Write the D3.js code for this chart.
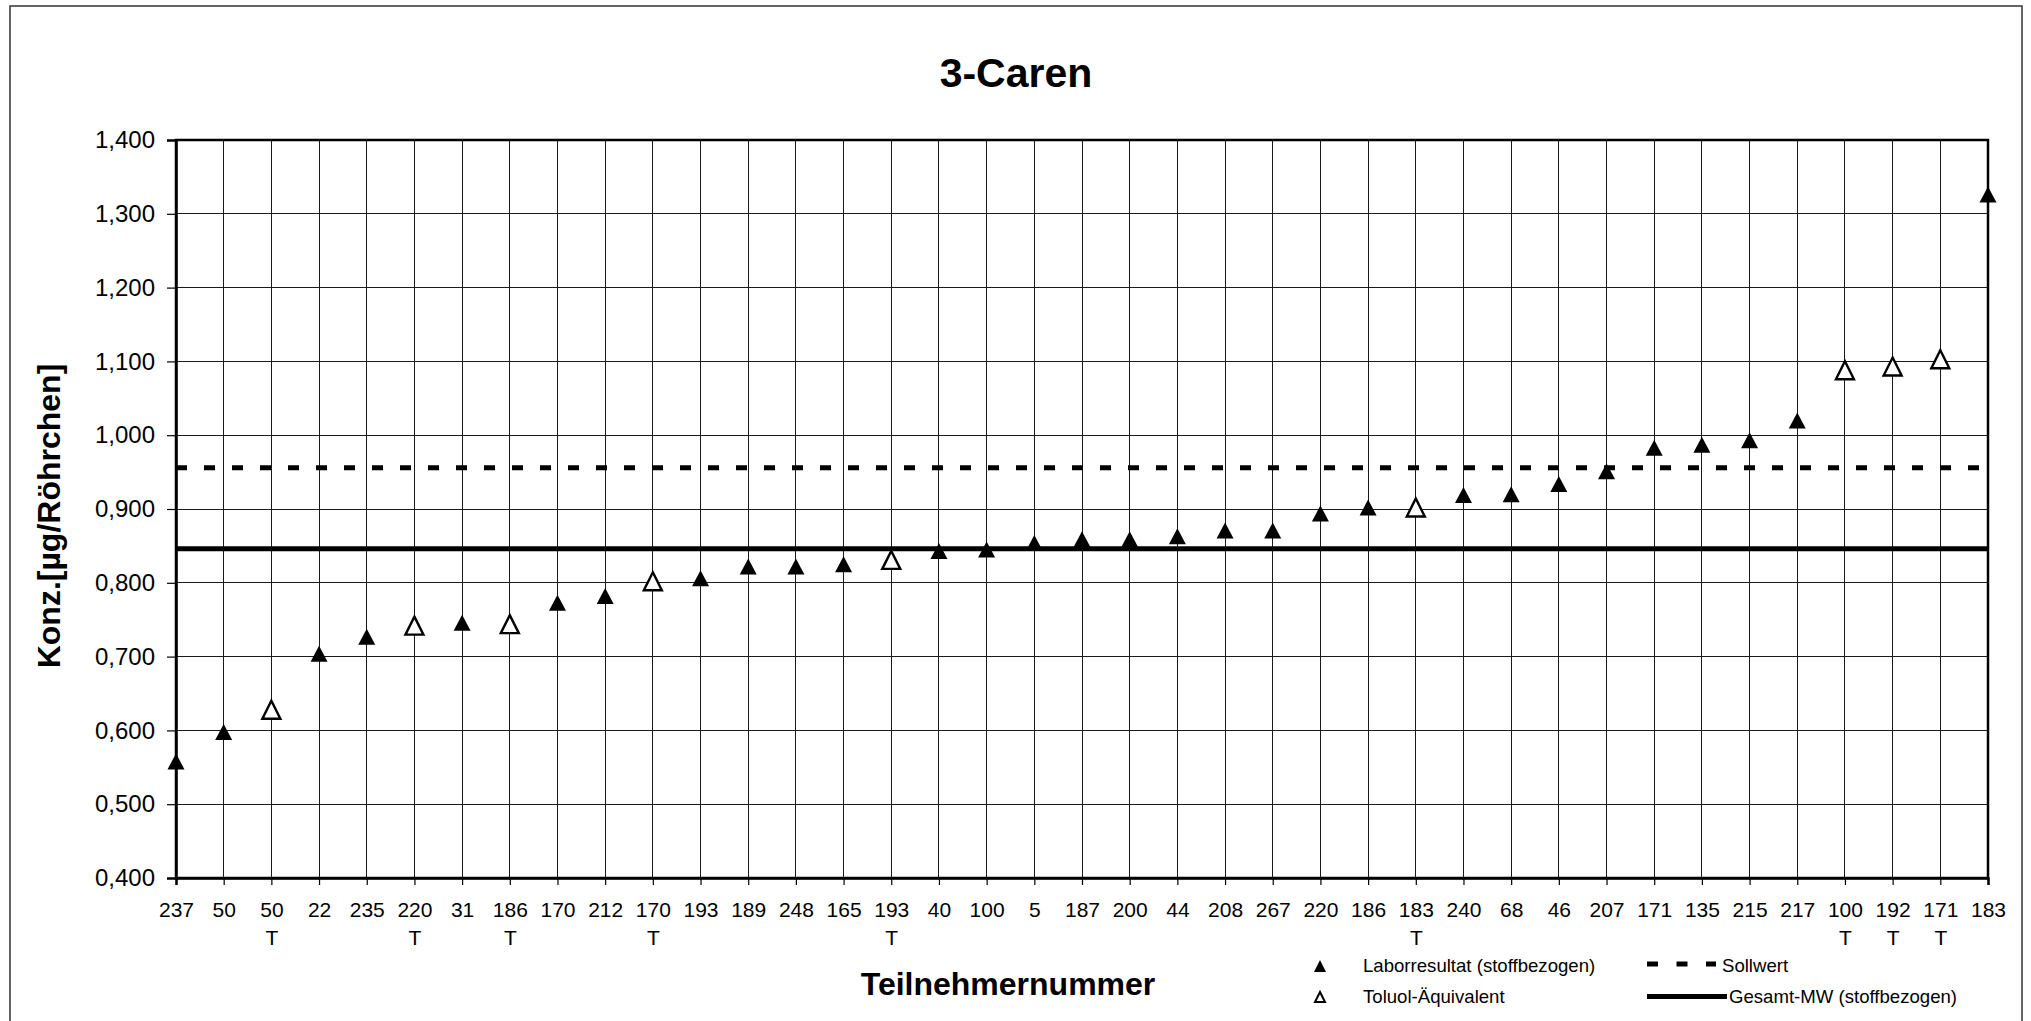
<!DOCTYPE html>
<html>
<head>
<meta charset="utf-8">
<script src="https://cdn.jsdelivr.net/npm/d3@7"></script>
<style>
  html, body { margin: 0; padding: 0; background: #fff; }
  svg { display: block; }
  text { font-family: "Liberation Sans", Arial, sans-serif; fill: #000; }
</style>
</head>
<body>
<svg id="chart" width="2031" height="1021"></svg>
<script>
// ---------- DATA ----------
const title = "3-Caren";
const participants = ["237","50","50","22","235","220","31","186","170","212","170","193","189","248","165","193","40","100","5","187","200","44","208","267","220","186","183","240","68","46","207","171","135","215","217","100","192","171","183"];
const suffixes     = ["","","T","","","T","","T","","","T","","","","","T","","","","","","","","","","","T","","","","","","","","","T","T","T",""];
// Laborresultat (stoffbezogen) – filled triangles (null where Toluol-Äquivalent)
const labValues = [0.558,0.598,null,0.704,0.727,null,0.746,null,0.773,0.782,null,0.806,0.822,0.822,0.825,null,0.843,0.845,0.854,0.859,0.859,0.863,0.871,0.871,0.894,0.902,null,0.919,0.920,0.934,0.951,0.983,0.987,0.993,1.020,null,null,null,1.326];
// Toluol-Äquivalent – open triangles
const toluolValues = [null,null,0.628,null,null,0.742,null,0.744,null,null,0.802,null,null,null,null,0.831,null,null,null,null,null,null,null,null,null,null,0.902,null,null,null,null,null,null,null,null,1.088,1.093,1.103,null];
const sollwert = 0.956;
const gesamtMW = 0.846;
const yTicks = [0.4,0.5,0.6,0.7,0.8,0.9,1.0,1.1,1.2,1.3,1.4];
const legendLabels = ["Laborresultat (stoffbezogen)","Toluol-Äquivalent","Sollwert","Gesamt-MW (stoffbezogen)"];
const xTitle = "Teilnehmernummer";
const yTitle = "Konz.[µg/Röhrchen]";

// ---------- LAYOUT ----------
const svg = d3.select("#chart");
const plot = {left: 176, right: 1988, top: 140, bottom: 878};

const idx = participants.map((d, i) => String(i));
const x = d3.scalePoint().domain(idx).range([plot.left, plot.right]).padding(0);
const y = d3.scaleLinear().domain([0.4, 1.4]).range([plot.bottom, plot.top]);

const locale = d3.formatLocale({decimal: ",", thousands: ".", grouping: [3], currency: ["", "€"]});
const fmt = locale.format(".3f");

// outer border
svg.append("rect").attr("x", 10).attr("y", 6).attr("width", 2012).attr("height", 1030)
  .attr("fill", "none").attr("stroke", "#333").attr("stroke-width", 1.5);

// title
svg.append("text").attr("x", 1016).attr("y", 86.5).attr("text-anchor", "middle")
  .attr("font-size", 41).attr("font-weight", "bold").text(title);

// gridlines
const grid = svg.append("g");
grid.selectAll("line.h").data(yTicks).join("line")
  .attr("x1", plot.left).attr("x2", plot.right)
  .attr("y1", d => y(d)).attr("y2", d => y(d))
  .attr("stroke", "#1a1a1a").attr("stroke-width", 1).attr("shape-rendering", "crispEdges");
grid.selectAll("line.v").data(idx).join("line")
  .attr("x1", d => x(d)).attr("x2", d => x(d))
  .attr("y1", plot.top).attr("y2", plot.bottom)
  .attr("stroke", "#1a1a1a").attr("stroke-width", 1).attr("shape-rendering", "crispEdges");

// plot frame
svg.append("rect").attr("x", plot.left).attr("y", plot.top)
  .attr("width", plot.right - plot.left).attr("height", plot.bottom - plot.top)
  .attr("fill", "none").attr("stroke", "#000").attr("stroke-width", 2.5);

// y axis
const yAxis = svg.append("g").attr("transform", `translate(${plot.left},0)`)
  .call(d3.axisLeft(y).tickValues(yTicks).tickSize(9).tickPadding(12).tickFormat(fmt));
yAxis.select(".domain").attr("stroke", "#000").attr("stroke-width", 2.5);
yAxis.selectAll(".tick line").attr("stroke", "#000").attr("stroke-width", 1.2);
yAxis.selectAll(".tick text").attr("font-size", 24).attr("font-family", "Liberation Sans, Arial, sans-serif").attr("fill", "#000");

// x axis
const xAxis = svg.append("g").attr("transform", `translate(0,${plot.bottom})`)
  .call(d3.axisBottom(x).tickSize(7).tickFormat(d => participants[+d]));
xAxis.select(".domain").attr("stroke", "#000").attr("stroke-width", 2.5);
xAxis.selectAll(".tick line").attr("stroke", "#000").attr("stroke-width", 1.2);
xAxis.selectAll(".tick text")
  .attr("y", 38.7).attr("dy", null)
  .attr("font-size", 21).attr("font-family", "Liberation Sans, Arial, sans-serif").attr("fill", "#000")
  .each(function(d) {
    const s = suffixes[+d];
    if (s) {
      d3.select(this).append("tspan").attr("x", 0).attr("y", 67).text(s);
    }
  });

// reference lines
svg.append("line").attr("x1", plot.left).attr("x2", plot.right)
  .attr("y1", y(sollwert)).attr("y2", y(sollwert))
  .attr("stroke", "#000").attr("stroke-width", 5).attr("stroke-dasharray", "11,17");
svg.append("line").attr("x1", plot.left).attr("x2", plot.right)
  .attr("y1", y(gesamtMW)).attr("y2", y(gesamtMW))
  .attr("stroke", "#000").attr("stroke-width", 5);

// markers
const tri = (w, h) => `M0,${-h/2}L${w/2},${h/2}L${-w/2},${h/2}Z`;
svg.append("g").selectAll("path")
  .data(labValues.map((v, i) => ({i, v})).filter(d => d.v != null))
  .join("path")
  .attr("d", tri(17, 16))
  .attr("transform", d => `translate(${x(String(d.i))},${y(d.v)})`)
  .attr("fill", "#000");
svg.append("g").selectAll("path")
  .data(toluolValues.map((v, i) => ({i, v})).filter(d => d.v != null))
  .join("path")
  .attr("d", tri(18, 18))
  .attr("transform", d => `translate(${x(String(d.i))},${y(d.v)})`)
  .attr("fill", "#fff").attr("stroke", "#000").attr("stroke-width", 2.4);

// axis titles
svg.append("text").attr("x", 1008).attr("y", 995).attr("text-anchor", "middle")
  .attr("font-size", 32).attr("font-weight", "bold").text(xTitle);
svg.append("text").attr("transform", "translate(60,516) rotate(-90)").attr("text-anchor", "middle")
  .attr("font-size", 32).attr("font-weight", "bold").text(yTitle);

// legend
const lg = svg.append("g");
lg.append("path").attr("d", tri(12, 12)).attr("transform", "translate(1320,966)").attr("fill", "#000");
lg.append("text").attr("x", 1363).attr("y", 971.5).attr("font-size", 18.6).text(legendLabels[0]);
lg.append("path").attr("d", tri(10, 10)).attr("transform", "translate(1320,997)")
  .attr("fill", "#fff").attr("stroke", "#000").attr("stroke-width", 2);
lg.append("text").attr("x", 1363).attr("y", 1003).attr("font-size", 18.6).text(legendLabels[1]);
lg.append("line").attr("x1", 1647).attr("x2", 1716).attr("y1", 964).attr("y2", 964)
  .attr("stroke", "#000").attr("stroke-width", 5).attr("stroke-dasharray", "11,18.5");
lg.append("text").attr("x", 1722).attr("y", 971.5).attr("font-size", 18.6).text(legendLabels[2]);
lg.append("line").attr("x1", 1647).attr("x2", 1727).attr("y1", 996.5).attr("y2", 996.5)
  .attr("stroke", "#000").attr("stroke-width", 5);
lg.append("text").attr("x", 1729).attr("y", 1003).attr("font-size", 18.6).text(legendLabels[3]);
</script>
</body>
</html>
